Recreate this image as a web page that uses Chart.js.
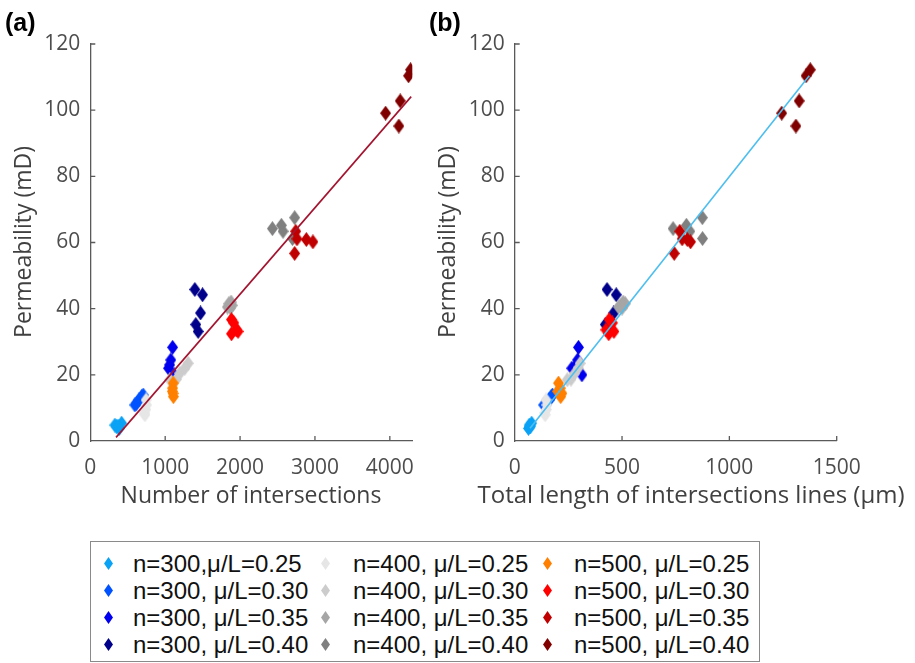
<!DOCTYPE html>
<html><head><meta charset="utf-8">
<script src="https://cdn.jsdelivr.net/npm/chart.js@4"></script>
<style>
body{margin:0;background:#fff;width:915px;height:663px;position:relative;overflow:hidden;font-family:"Liberation Sans",Arial,sans-serif;}
canvas{position:absolute;top:0;}
#cA{left:0;}
#cB{left:430px;}
.panel{position:absolute;font:bold 25px "Liberation Sans",Arial,sans-serif;color:#000;}
#legend{position:absolute;left:90px;top:541px;width:670px;height:121px;border:1px solid #8a8a8a;box-sizing:border-box;background:#fff;}
.item{position:absolute;font-size:24px;color:#111;white-space:nowrap;line-height:27px;height:27px;}
</style></head>
<body>
<canvas id="cA" width="430" height="530" style="width:430px;height:530px"></canvas>
<canvas id="cB" width="485" height="530" style="width:485px;height:530px"></canvas>
<div class="panel" style="left:5px;top:8px">(a)</div>
<div class="panel" style="left:429px;top:8px">(b)</div>
<div id="legend"></div>
<script>
// ---- series names and colours ----
const seriesLabels = [
  "n=300,\u03bc/L=0.25","n=300, \u03bc/L=0.30","n=300, \u03bc/L=0.35","n=300, \u03bc/L=0.40",
  "n=400, \u03bc/L=0.25","n=400, \u03bc/L=0.30","n=400, \u03bc/L=0.35","n=400, \u03bc/L=0.40",
  "n=500, \u03bc/L=0.25","n=500, \u03bc/L=0.30","n=500, \u03bc/L=0.35","n=500, \u03bc/L=0.40"
];
const seriesColors = [
  "#0aa2f5","#0052ff","#0000ee","#00008b",
  "#e6e6e6","#cccccc","#a6a6a6","#808080",
  "#ff8000","#ff0000","#c00000","#800000"
];
// ---- permeability (mD) per series ----
const perm300 = [[4.3,5.4,3.8,4.8,4.5],[11.4,13.4,13.9,10.9,12.4],[28.3,24.5,23.0,22.0,20.0],[45.8,44.2,38.7,35.2,33.1]];
const perm400 = [[7.9,9.5,10.9,12.4,8.5],[23.5,22.0,20.5,18.7,18.5],[42.0,41.5,41.0,40.5,40.2],[64.2,65.2,63.4,67.5,61.2]];
const perm500 = [[17.5,16.0,14.4,13.4,15.0],[36.7,35.7,33.1,32.4,33.6],[63.4,61.1,60.9,60.2,56.7],[112.2,110.4,102.8,99.1,95.2]];
// ---- number of intersections per series (panel a) ----
const count300 = [[352,418,387,329,370],[618,685,707,596,650],[1099,1075,1060,1045,1120],[1396,1499,1472,1409,1440]];
const count400 = [[729,740,752,745,720],[1307,1262,1196,1150,1062],[1880,1850,1895,1830,1870],[2432,2552,2574,2729,2700]];
const count500 = [[1107,1100,1105,1110,1095],[1885,1916,1973,1885,1952],[2743,2760,2885,2973,2729],[4276,4250,4139,3943,4120]];
// ---- total length of intersection lines (um) per series (panel b) ----
const len300 = [[71,79,64,68,74],[150,170,176,135,160],[297,293,286,266,313],[430,473,461,422,440]];
const len400 = [[142,148,150,146,140],[305,295,280,262,245],[505,515,495,484,500],[738,800,816,874,875]];
const len500 = [[204,212,220,214,200],[440,455,462,438,425],[769,780,804,819,743],[1377,1357,1325,1244,1310]];
// ---- fitted lines (end points) ----
const fitA_x = [344, 4285], fitA_y = [1.1, 104.1];
const fitB_x = [71.5, 1372], fitB_y = [3.85, 110.4];
// ---- axis ticks ----
const ticksA_x = [0,1000,2000,3000,4000];
const ticksB_x = [0,500,1000,1500];
const ticks_y = [0,20,40,60,80,100,120];

const permAll = [...perm300, ...perm400, ...perm500];
const countAll = [...count300, ...count400, ...count500];
const lenAll = [...len300, ...len400, ...len500];

function diamond(color, w, h){
  const c = document.createElement('canvas'); c.width = w; c.height = h;
  const g = c.getContext('2d'); g.fillStyle = color; g.beginPath();
  g.moveTo(w/2,0); g.lineTo(w,h/2); g.lineTo(w/2,h); g.lineTo(0,h/2); g.closePath(); g.fill();
  return c;
}
const markerImgs = seriesColors.map(c => diamond(c, 11, 15));

// legend (HTML)
const leg = document.getElementById('legend');
const colX = [[17,42],[234,262],[456,483]];
const rowY = [21,48,75,102];
seriesLabels.forEach((lab,i)=>{
  const col = Math.floor(i/4), row = i%4;
  const m = document.createElementNS('http://www.w3.org/2000/svg','svg');
  m.setAttribute('width','9'); m.setAttribute('height','13');
  m.style.position='absolute'; m.style.left=(colX[col][0]-4.5)+'px'; m.style.top=(rowY[row]-6.5)+'px';
  m.innerHTML = '<polygon points="4.5,0 9,6.5 4.5,13 0,6.5" fill="'+seriesColors[i]+'"/>';
  leg.appendChild(m);
  const d = document.createElement('div'); d.className='item';
  d.style.left = colX[col][1]+'px'; d.style.top = (rowY[row]-13.5)+'px';
  d.textContent = lab; leg.appendChild(d);
});

const inwardTicks = {
  id:'inwardTicks',
  afterDraw(chart, args, o){
    const ctx = chart.ctx, a = chart.chartArea, xs = chart.scales.x, ys = chart.scales.y;
    ctx.save(); ctx.strokeStyle = '#5a5a5a'; ctx.lineWidth = 1.3; ctx.beginPath();
    xs.ticks.forEach(t=>{ const p = xs.getPixelForValue(t.value); if (p > a.left+1){ ctx.moveTo(p, a.bottom); ctx.lineTo(p, a.bottom-5);} });
    ys.ticks.forEach(t=>{ const p = ys.getPixelForValue(t.value); if (p < a.bottom-1){ ctx.moveTo(a.left, p); ctx.lineTo(a.left+5, p);} });
    ctx.stroke(); ctx.restore();
  }
};
const axisTitles = {
  id:'axisTitles',
  afterDraw(chart, args, o){
    const ctx = chart.ctx; ctx.save();
    ctx.fillStyle = '#404040'; ctx.font = o.size + 'px "Open Sans", sans-serif';
    ctx.textAlign = 'center'; ctx.textBaseline = 'middle';
    ctx.fillText(o.xText, o.xc[0], o.xc[1]);
    ctx.translate(o.yc[0], o.yc[1]); ctx.rotate(-Math.PI/2);
    ctx.font = '23px "Open Sans", sans-serif';
    ctx.fillText(o.yText, 0, 0);
    ctx.restore();
  }
};

function makeChart(id, xVals, fitX, fitY, xMax, xTicks, yAxisW, padRight, fitColor, titles){
  const datasets = seriesLabels.map((lab,i)=>({
    label: lab,
    data: permAll[i].map((v,j)=>({x: xVals[i][j], y: v})),
    pointStyle: markerImgs[i], pointRadius: 7, pointHoverRadius: 7,
    backgroundColor: seriesColors[i], borderColor: seriesColors[i],
    order: 100 - i
  }));
  datasets.push({
    type:'line', label:'fit', data: fitX.map((v,j)=>({x:v, y:fitY[j]})),
    borderColor: fitColor, borderWidth: 1.6, pointRadius: 0, showLine: true, fill:false, order: 0
  });
  const tickFont = {family:'"Open Sans", sans-serif', size:21};
  return new Chart(document.getElementById(id), {
    type:'scatter',
    data:{datasets},
    options:{
      responsive:false, animation:false, devicePixelRatio:1,
      layout:{padding:{left:0, top:44, right:padRight, bottom:0}},
      plugins:{legend:{display:false}, tooltip:{enabled:false}, axisTitles: titles},
      scales:{
        x:{type:'linear', min:0, max:xMax,
          afterBuildTicks: s=>{ s.ticks = xTicks.map(v=>({value:v})); },
          afterFit: s=>{ s.height = 89; },
          ticks:{color:'#4d4d4d', font:tickFont, padding:14, maxRotation:0, autoSkip:false, callback: v => String(v)},
          grid:{drawOnChartArea:false, drawTicks:false},
          border:{color:'#5a5a5a', width:1.3}},
        y:{type:'linear', min:0, max:120,
          afterBuildTicks: s=>{ s.ticks = ticks_y.map(v=>({value:v})); },
          afterFit: s=>{ s.width = yAxisW; },
          ticks:{color:'#4d4d4d', font:tickFont, padding:10, autoSkip:false, callback: v => String(v)},
          grid:{drawOnChartArea:false, drawTicks:false},
          border:{color:'#5a5a5a', width:1.3}}
      }
    },
    plugins:[inwardTicks, axisTitles]
  });
}

makeChart('cA', countAll, fitA_x, fitA_y, 4300, ticksA_x, 90.3, 17.7, '#a2142f',
  {xText:'Number of intersections', size:23, xc:[251,496], yText:'Permeability (mD)', yc:[24,242]});
makeChart('cB', lenAll, fitB_x, fitB_y, 1500, ticksB_x, 84.7, 78.3, '#4dbeee',
  {xText:'Total length of intersections lines (\u03bcm)', size:24, xc:[261,496], yText:'Permeability (mD)', yc:[18,242]});
</script>
</body></html>
